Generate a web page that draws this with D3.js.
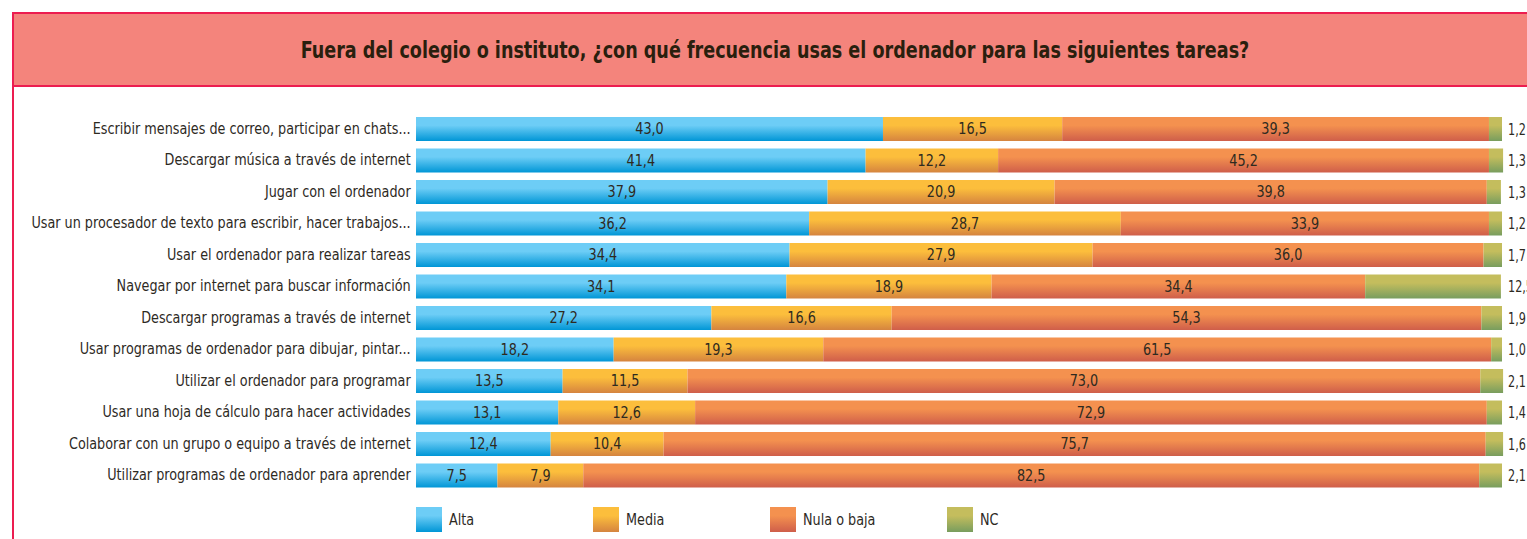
<!DOCTYPE html>
<html>
<head>
<meta charset="utf-8">
<script src="https://cdn.jsdelivr.net/npm/d3@7"></script>
<style>
  html, body { margin: 0; padding: 0; background: #fff; overflow: hidden; }
  svg { display: block; }
</style>
</head>
<body>
<svg id="chart" width="1527" height="539"></svg>
<script>
// Survey tasks (top to bottom)
const categories = [
  "Escribir mensajes de correo, participar en chats...",
  "Descargar música a través de internet",
  "Jugar con el ordenador",
  "Usar un procesador de texto para escribir, hacer trabajos...",
  "Usar el ordenador para realizar tareas",
  "Navegar por internet para buscar información",
  "Descargar programas a través de internet",
  "Usar programas de ordenador para dibujar, pintar...",
  "Utilizar el ordenador para programar",
  "Usar una hoja de cálculo para hacer actividades",
  "Colaborar con un grupo o equipo a través de internet",
  "Utilizar programas de ordenador para aprender"
];

// Percentages per frequency level
const alta  = [43.0, 41.4, 37.9, 36.2, 34.4, 34.1, 27.2, 18.2, 13.5, 13.1, 12.4, 7.5];
const media = [16.5, 12.2, 20.9, 28.7, 27.9, 18.9, 16.6, 19.3, 11.5, 12.6, 10.4, 7.9];
const nula  = [39.3, 45.2, 39.8, 33.9, 36.0, 34.4, 54.3, 61.5, 73.0, 72.9, 75.7, 82.5];
const nc    = [1.2, 1.3, 1.3, 1.2, 1.7, 12.5, 1.9, 1.0, 2.1, 1.4, 1.6, 2.1];

const seriesNames = ["Alta", "Media", "Nula o baja", "NC"];
const seriesKeys = ["alta", "media", "nula", "nc"];

const title = "Fuera del colegio o instituto, ¿con qué frecuencia usas el ordenador para las siguientes tareas?";

const gradientStops = {
  alta:  ["#6dcdf6", "#0096d6"],
  media: ["#fcbe3c", "#d5843f"],
  nula:  ["#f4914f", "#cf5e4a"],
  nc:    ["#c4bd5d", "#789d5e"]
};

const FONT = "'DejaVu Sans Condensed', 'Liberation Sans Narrow', 'Roboto', sans-serif";
const NARROW = 0.89;      // extra horizontal squeeze for the condensed face
const textColor = "#2e2a1f";
const frameColor = "#ec1d50";

const table = categories.map((c, i) => ({
  category: c, alta: alta[i], media: media[i], nula: nula[i], nc: nc[i]
}));

const svg = d3.select("#chart");
const defs = svg.append("defs");
seriesKeys.forEach(k => {
  const g = defs.append("linearGradient")
    .attr("id", "grad-" + k)
    .attr("x1", 0).attr("y1", 0).attr("x2", 0).attr("y2", 1);
  g.append("stop").attr("offset", "0%").attr("stop-color", gradientStops[k][0]);
  g.append("stop").attr("offset", "35%").attr("stop-color", gradientStops[k][0]);
  g.append("stop").attr("offset", "100%").attr("stop-color", gradientStops[k][1]);
});

// Places a text at (px, py) with a horizontal squeeze
const placed = (px, py, sx = NARROW) => `translate(${px},${py}) scale(${sx},1)`;

// Header band and frame
svg.append("rect")
  .attr("x", 13).attr("y", 13).attr("width", 1527).attr("height", 73)
  .attr("fill", "#f4847c");
svg.append("line").attr("x1", 13).attr("x2", 1527).attr("y1", 13).attr("y2", 13)
  .attr("stroke", frameColor).attr("stroke-width", 2);
svg.append("line").attr("x1", 13).attr("x2", 1527).attr("y1", 86).attr("y2", 86)
  .attr("stroke", frameColor).attr("stroke-width", 2);
svg.append("line").attr("x1", 13).attr("x2", 13).attr("y1", 12).attr("y2", 539)
  .attr("stroke", frameColor).attr("stroke-width", 2);

svg.append("text")
  .attr("transform", placed(775, 50, 0.85))
  .attr("text-anchor", "middle")
  .attr("dominant-baseline", "central")
  .attr("font-family", FONT)
  .attr("font-weight", "bold")
  .attr("font-size", 23)
  .attr("fill", "#2a1f0e")
  .text(title);

// Scales
const x = d3.scaleLinear().domain([0, 100]).range([416, 1502]);
const y = d3.scaleBand().domain(categories)
  .range([113.25, 491.25]).paddingInner(0.238).paddingOuter(0.119);

const stacked = d3.stack().keys(seriesKeys)(table);

const fmt = v => d3.format(".1f")(v).replace(".", ",");

// Bars
const layers = svg.append("g").selectAll("g")
  .data(stacked).join("g")
  .attr("fill", d => `url(#grad-${d.key})`);

layers.selectAll("rect")
  .data(d => d)
  .join("rect")
  .attr("x", d => x(d[0]))
  .attr("y", d => y(d.data.category))
  .attr("width", d => x(d[1]) - x(d[0]))
  .attr("height", y.bandwidth());

// Values inside segments (all but NC)
stacked.filter(s => s.key !== "nc").forEach(s => {
  svg.append("g").selectAll("text")
    .data(s).join("text")
    .attr("transform", d => placed((x(d[0]) + x(d[1])) / 2, y(d.data.category) + y.bandwidth() / 2))
    .attr("text-anchor", "middle")
    .attr("dominant-baseline", "central")
    .attr("font-family", FONT)
    .attr("font-size", 16)
    .attr("fill", textColor)
    .text(d => fmt(d[1] - d[0]));
});

// NC values to the right of the bars
svg.append("g").selectAll("text")
  .data(table).join("text")
  .attr("transform", d => placed(x(100) + 6, y(d.category) + y.bandwidth() / 2, 0.78))
  .attr("dominant-baseline", "central")
  .attr("font-family", FONT)
  .attr("font-size", 16)
  .attr("fill", textColor)
  .text(d => fmt(d.nc));

// Category labels
const yAxis = d3.axisLeft(y).tickSize(0).tickPadding(6);
const axisG = svg.append("g").attr("transform", `translate(${x(0)},0)`).call(yAxis);
axisG.select(".domain").remove();
axisG.selectAll("text")
  .attr("font-family", FONT)
  .attr("font-size", 16)
  .attr("fill", textColor)
  .attr("dy", "0.3em")
  .attr("transform", `scale(${NARROW},1)`);

// Legend
const legend = svg.append("g").selectAll("g")
  .data(seriesKeys).join("g")
  .attr("transform", (d, i) => `translate(${416 + i * 177},507)`);
legend.append("rect")
  .attr("width", 26).attr("height", 25)
  .attr("fill", d => `url(#grad-${d})`);
legend.append("text")
  .attr("transform", placed(33, 13))
  .attr("dominant-baseline", "central")
  .attr("font-family", FONT)
  .attr("font-size", 16)
  .attr("fill", textColor)
  .text((d, i) => seriesNames[i]);
</script>
</body>
</html>
